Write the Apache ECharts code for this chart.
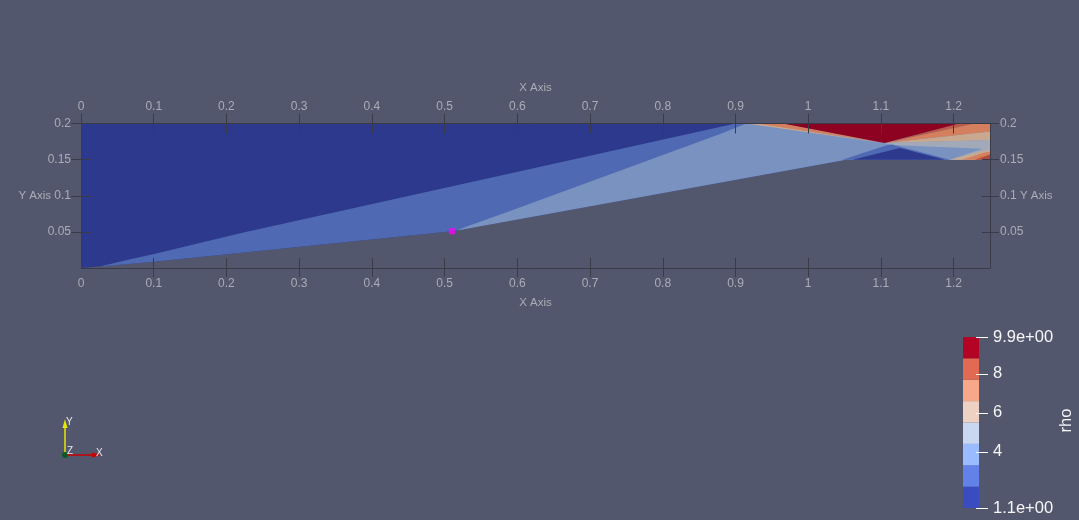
<!DOCTYPE html>
<html>
<head>
<meta charset="utf-8">
<style>html,body{margin:0;padding:0;background:#52576E}#c{width:1079px;height:520px}</style>
<script src="https://cdn.jsdelivr.net/npm/echarts@6/dist/echarts.min.js"></script>
</head>
<body>
<div id="c"></div>
<script>
// Axis ticks
var xTicks = [0,0.1,0.2,0.3,0.4,0.5,0.6,0.7,0.8,0.9,1,1.1,1.2];
var xTicksNoZero = [0.1,0.2,0.3,0.4,0.5,0.6,0.7,0.8,0.9,1,1.1,1.2];
var yTicks = [0,0.05,0.1,0.15,0.2];
var yLabels = [0.05,0.1,0.15,0.2];

// Flow regions as [x, y] in data units, painted in this order
var domain = [[0,0],[0.1,0.0085],[0.51,0.051],[1.052,0.15],[1.25,0.15],[1.25,0.2],[0,0.2]];
var midWedge = [[0.026,0.002],[0.063,0.011],[0.099,0.019],[0.219,0.048],[0.9,0.2],[1.25,0.2],[1.25,0.15],[1.052,0.15],[0.51,0.051],[0.1,0.0085]];
var lightWedge = [[0.517,0.052],[0.524,0.055],[0.59,0.079],[0.878,0.185],[0.915,0.2],[1.25,0.2],[1.25,0.15],[1.052,0.15]];
var grayFan = [[1.105,0.173],[1.25,0.177],[1.25,0.15],[1.195,0.15]];
var lightTip = [[1.122,0.17],[1.24,0.165],[1.195,0.15],[1.115,0.171]];
var tanCorner = [[1.195,0.15],[1.24,0.162],[1.25,0.163],[1.25,0.15]];
var orangeCorner = [[1.211,0.15],[1.243,0.16],[1.25,0.161],[1.25,0.15]];
var redCorner = [[1.229,0.15],[1.247,0.156],[1.25,0.157],[1.25,0.15]];
var tanFan = [[1.105,0.173],[1.25,0.189],[1.25,0.177]];
var orangeFan = [[1.105,0.173],[1.229,0.2],[1.25,0.2],[1.25,0.189]];
var deepFan = [[1.105,0.173],[1.208,0.2],[1.229,0.2]];
var tanShock = [[0.915,0.2],[0.933,0.2],[1.109,0.172]];
var orangeShock = [[0.929,0.2],[0.965,0.2],[1.107,0.173]];
var redZone = [[0.965,0.2],[1.208,0.2],[1.105,0.173]];
var midBelow = [[1.047,0.15],[1.108,0.17],[1.115,0.171],[1.195,0.15]];
var darkBelow = [[1.061,0.15],[1.126,0.166],[1.188,0.15]];
var regions = [domain,midWedge,lightWedge,grayFan,lightTip,tanCorner,orangeCorner,redCorner,tanFan,orangeFan,deepFan,tanShock,orangeShock,redZone,midBelow,darkBelow];
var regionColors = ['#2C398D','#4F69B3','#7A92C0','#A2AABA','#7A92C0','#C9A890','#D4805F','#B4493C','#C9A890','#D4805F','#BC5A45','#C9A890','#D4805F','#8C0220','#4F69B3','#2C398D'];

// Probe marker
var probe = [[0.51,0.051]];

// Colour bar
var barEdges = [1.1,2.2,3.3,4.4,5.5,6.6,7.7,8.8,9.9];
var barColors = ['#3B4CC0','#6282EA','#9ABBFF','#C9D7F0','#EDD1C2','#F7A889','#E26952','#B40426'];
var barTicks = [1.1,4,6,8,9.9];
var barTickLabels = ['1.1e+00','4','6','8','9.9e+00'];

var FONT = '"Liberation Sans", Arial, sans-serif';
var AX = '#3A3A48', LBL = '#ABACB4';

function plotAxisX(pos, grid, tickLen, showLabel, ticks, nameGap, margin) {
  return {
    type:'value', gridIndex:grid, position:pos, min:0, max:1.25, z:5,
    name: showLabel ? 'X Axis' : '', nameLocation:'middle', nameGap:nameGap, nameMoveOverlap:false,
    nameTextStyle:{color:LBL,fontFamily:FONT,fontSize:11.5},
    splitLine:{show:false},
    axisLine:{show:showLabel,onZero:false,lineStyle:{color:AX,width:1}},
    axisTick:{show:true,inside:showLabel,length:tickLen,customValues:ticks,lineStyle:{color:AX,width:1}},
    axisLabel:{show:showLabel,customValues:xTicks,margin:margin,color:LBL,fontFamily:FONT,fontSize:12}
  };
}
function plotAxisY(pos, grid, tickLen, showLabel, ticks) {
  return {
    type:'value', gridIndex:grid, position:pos, min:0, max:0.2, z:5,
    name: showLabel ? 'Y Axis' : '', nameLocation:'middle', nameGap:30, nameRotate:0, nameMoveOverlap:false,
    nameTextStyle:{color:LBL,fontFamily:FONT,fontSize:11.5},
    splitLine:{show:false},
    axisLine:{show:showLabel,onZero:false,lineStyle:{color:AX,width:1}},
    axisTick:{show:true,inside:showLabel,length:tickLen,customValues:ticks,lineStyle:{color:AX,width:1}},
    axisLabel:{show:showLabel,customValues:yLabels,margin:10,color:LBL,fontFamily:FONT,fontSize:12}
  };
}

var chart = echarts.init(document.getElementById('c'), null, {renderer:'canvas'});
var gridBox = {left:81,width:909,top:123.5,height:144.5};
var barBox = {left:963,width:16,top:337,height:171};
chart.setOption({
  animation:false,
  backgroundColor:'#52576E',
  grid:[
    Object.assign({containLabel:false},gridBox),
    Object.assign({containLabel:false},gridBox),
    barBox
  ],
  xAxis:[
    plotAxisX('bottom',0,10,true,xTicks,29,10),
    plotAxisX('top',0,10,true,xTicks,30,11),
    plotAxisX('bottom',1,9,false,xTicksNoZero,20,8),
    plotAxisX('top',1,10,false,xTicks,20,8),
    {type:'value',gridIndex:2,min:0,max:1,show:false}
  ],
  yAxis:[
    plotAxisY('left',0,10,true,yTicks),
    plotAxisY('right',0,8,true,yTicks),
    plotAxisY('left',1,10,false,yLabels),
    plotAxisY('right',1,9,false,yLabels),
    {
      type:'value',gridIndex:2,position:'right',min:1.1,max:9.9,z:6,
      name:'rho',nameLocation:'middle',nameGap:79,nameRotate:90,nameMoveOverlap:false,
      nameTextStyle:{color:'#F6F6F6',fontFamily:FONT,fontSize:16.5,padding:[0,0,0,4]},
      splitLine:{show:false},
      axisLine:{show:false},
      axisTick:{show:false},
      axisLabel:{show:true,customValues:barTicks,margin:14,color:'#F6F6F6',fontFamily:FONT,fontSize:16.5,
        formatter:function(v){return barTickLabels[barTicks.indexOf(v)];}}
    }
  ],
  series:[
    {
      type:'custom',xAxisIndex:0,yAxisIndex:0,silent:true,z:2,clip:true,
      data:regions.map(function(r,i){return [i];}),
      renderItem:function(params,api){
        var i=params.dataIndex;
        return {type:'polygon',
          shape:{points:regions[i].map(function(p){return api.coord(p);})},
          style:{fill:regionColors[i]}};
      }
    },
    {
      type:'scatter',xAxisIndex:0,yAxisIndex:0,silent:true,z:10,
      symbol:'rect',symbolSize:6,itemStyle:{color:'#FF00FF'},data:probe
    },
    {
      type:'custom',xAxisIndex:4,yAxisIndex:4,silent:true,z:2,
      data:barColors.map(function(c,i){return [i];}),
      renderItem:function(params,api){
        var i=params.dataIndex;
        var a=api.coord([0,barEdges[i]]),b=api.coord([1,barEdges[i+1]]);
        return {type:'rect',shape:{x:a[0],y:b[1],width:b[0]-a[0],height:a[1]-b[1]},
          style:{fill:barColors[i]}};
      }
    },
    {
      type:'custom',xAxisIndex:4,yAxisIndex:4,silent:true,z:6,clip:false,
      data:barTicks.map(function(v){return [1,v];}),
      renderItem:function(params,api){
        var p=api.coord([1,barTicks[params.dataIndex]]);
        var y=Math.round(p[1])+0.5;
        return {type:'line',shape:{x1:p[0]-3,y1:y,x2:p[0]+9,y2:y},
          style:{stroke:'#FFFFFF',lineWidth:1}};
      }
    }
  ],
  graphic:[
    {type:'line',shape:{x1:65,y1:453,x2:65,y2:425},style:{stroke:'#E6E600',lineWidth:1.5},z:20},
    {type:'polygon',shape:{points:[[62.5,428],[67.5,428],[65,419]]},style:{fill:'#E6E600'},z:20},
    {type:'line',shape:{x1:65,y1:455,x2:95,y2:455},style:{stroke:'#C80000',lineWidth:1.5},z:20},
    {type:'polygon',shape:{points:[[92,452.5],[92,457.5],[101,455]]},style:{fill:'#C80000'},z:20},
    {type:'circle',shape:{cx:65,cy:455,r:3},style:{fill:'#0A5C24'},z:21},
    {type:'text',x:66,y:417,style:{text:'Y',fill:'#E8E8E8',font:'10px '+FONT},z:22},
    {type:'text',x:67,y:446,style:{text:'Z',fill:'#E8E8E8',font:'10px '+FONT},z:22},
    {type:'text',x:96,y:448,style:{text:'X',fill:'#E8E8E8',font:'10px '+FONT},z:22}
  ]
});
</script>
</body>
</html>
